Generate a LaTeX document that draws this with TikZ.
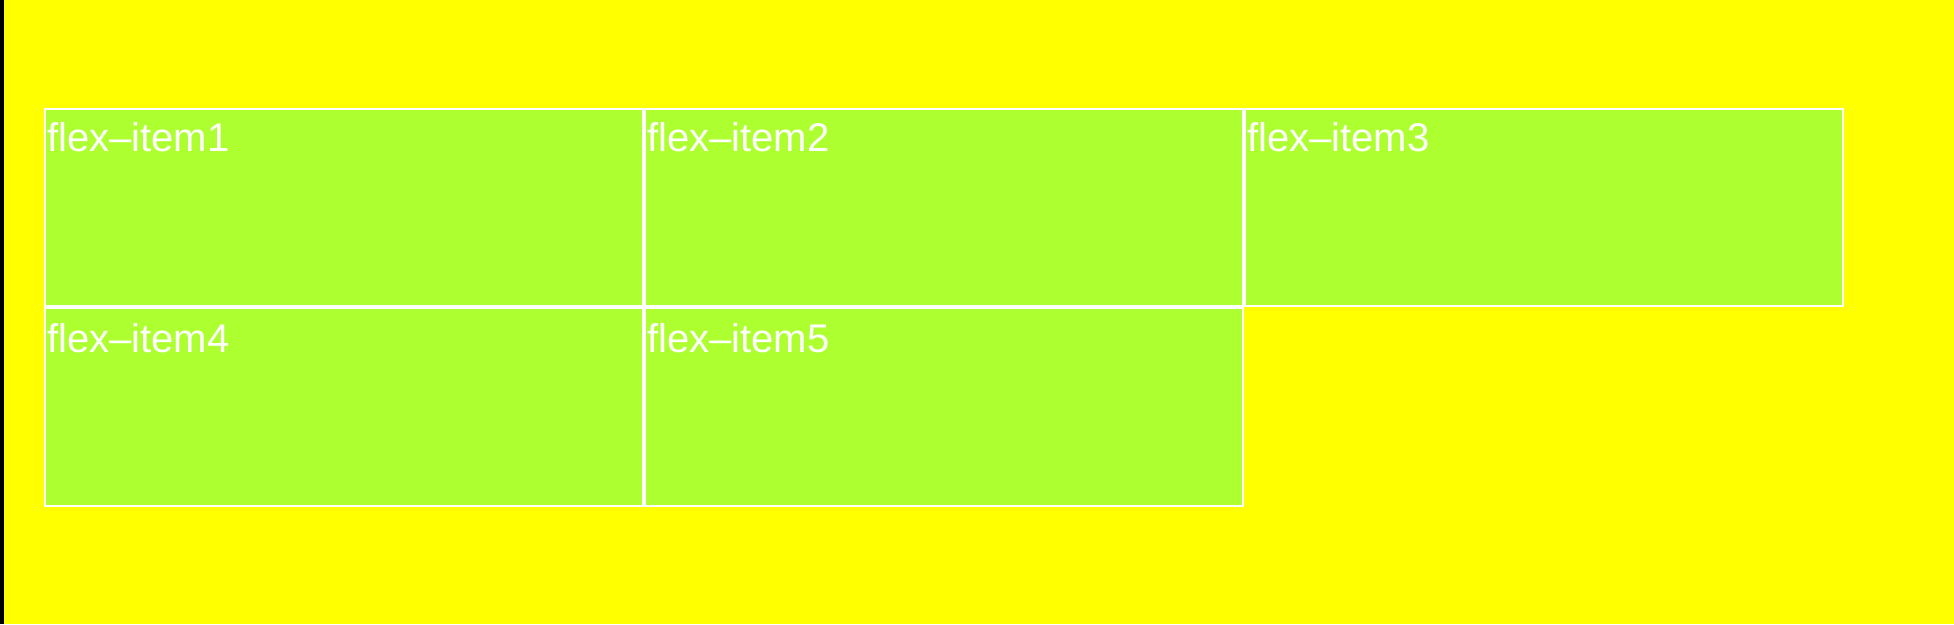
\documentclass[tikz,border=0pt]{standalone}
\usepackage{fontspec}
\setmainfont{Liberation Sans}
\definecolor{bgyellow}{HTML}{FFFF00}
\definecolor{itemgreen}{HTML}{ADFF2F}
\begin{document}
\begin{tikzpicture}[x=1pt,y=-1pt,
  itembox/.style={draw=white, line width=2pt, fill=itemgreen, minimum width=598pt, inner sep=0pt, outer sep=0pt},
  itemtext/.style={text=white, anchor=base west, inner sep=0pt, font=\fontsize{40}{48}\selectfont}]
\useasboundingbox (0,0) rectangle (1954,624);
\fill[bgyellow] (0,0) rectangle (1954,624);
\fill[black] (0,0) rectangle (4,624);
% row 1
\node[itembox, minimum height=197pt] (b1) at (344,207.5) {};
\node[itembox, minimum height=197pt] (b2) at (944,207.5) {};
\node[itembox, minimum height=197pt] (b3) at (1544,207.5) {};
% row 2
\node[itembox, minimum height=198pt] (b4) at (344,407) {};
\node[itembox, minimum height=198pt] (b5) at (944,407) {};
% labels
\node[itemtext] (t1) at (47,151.7) {flex–item1};
\node[itemtext] (t2) at (647,151.7) {flex–item2};
\node[itemtext] (t3) at (1247,151.7) {flex–item3};
\node[itemtext] (t4) at (47,352.3) {flex–item4};
\node[itemtext] (t5) at (647,352.3) {flex–item5};
\end{tikzpicture}
\end{document}
